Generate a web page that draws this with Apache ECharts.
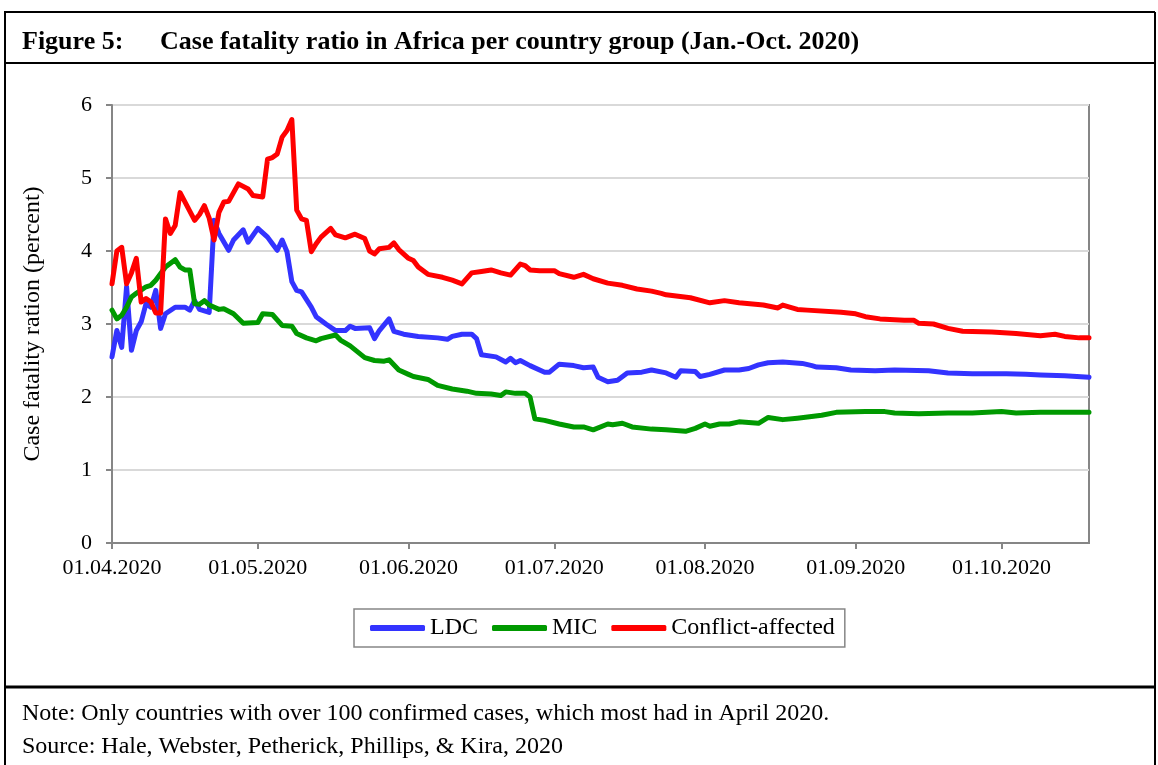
<!DOCTYPE html>
<html>
<head>
<meta charset="utf-8">
<script src="https://cdn.jsdelivr.net/npm/echarts@6/dist/echarts.min.js"></script>
<style>
  html, body { margin: 0; padding: 0; background: #fff; }
  #container { width: 1158px; height: 765px; }
</style>
</head>
<body>
<div id="container"></div>
<script>
// days counted from 01.04.2020
var tickDays = [0, 30, 61, 91, 122, 153, 183];
var tickLabels = ['01.04.2020', '01.05.2020', '01.06.2020', '01.07.2020', '01.08.2020', '01.09.2020', '01.10.2020'];
var lastDay = 201;

var ldcData = [
    [0, 2.55], [1, 2.91], [2, 2.68], [3, 3.51], [4, 2.64], [5, 2.91], [6, 3.03], [7, 3.28], [8, 3.23], [9, 3.46],
    [10, 2.94], [11, 3.14], [13, 3.23], [15, 3.23], [16, 3.19], [17, 3.32], [18, 3.2], [20, 3.16], [21, 4.42], [22, 4.24],
    [24, 4.01], [25, 4.15], [27, 4.29], [28, 4.12], [30, 4.31], [32, 4.19], [33, 4.1], [34, 4.01], [35, 4.15], [36, 3.99],
    [37, 3.58], [38, 3.46], [39, 3.44], [41, 3.23], [42, 3.1], [44, 3.0], [46, 2.91], [48, 2.91], [49, 2.97], [50, 2.94],
    [53, 2.95], [54, 2.8], [55, 2.91], [57, 3.07], [58, 2.9], [60, 2.86], [63, 2.83], [67, 2.81], [69, 2.79], [70, 2.83],
    [72, 2.86], [74, 2.86], [75, 2.8], [76, 2.58], [79, 2.55], [81, 2.48], [82, 2.53], [83, 2.47], [84, 2.5], [86, 2.43],
    [89, 2.34], [90, 2.34], [92, 2.45], [95, 2.43], [97, 2.4], [99, 2.41], [100, 2.27], [102, 2.21], [104, 2.23], [106, 2.33],
    [109, 2.34], [111, 2.37], [114, 2.33], [116, 2.27], [117, 2.36], [120, 2.35], [121, 2.28], [123, 2.31], [126, 2.37], [129, 2.37],
    [131, 2.39], [133, 2.44], [135, 2.47], [138, 2.48], [142, 2.46], [144, 2.43], [145, 2.41], [149, 2.4], [152, 2.37], [157, 2.36],
    [161, 2.37], [168, 2.36], [172, 2.33], [177, 2.32], [184, 2.32], [188, 2.31], [191, 2.3], [196, 2.29], [201, 2.27]
];

var micData = [
    [0, 3.19], [1, 3.07], [2, 3.12], [3, 3.23], [4, 3.37], [5, 3.42], [7, 3.51], [8, 3.53], [9, 3.6], [11, 3.78],
    [13, 3.88], [14, 3.78], [15, 3.74], [16, 3.74], [17, 3.28], [18, 3.27], [19, 3.32], [20, 3.26], [22, 3.2], [23, 3.21],
    [25, 3.14], [27, 3.01], [30, 3.02], [31, 3.14], [33, 3.13], [35, 2.98], [37, 2.97], [38, 2.87], [40, 2.81], [42, 2.77],
    [43, 2.8], [46, 2.85], [47, 2.78], [49, 2.7], [52, 2.54], [54, 2.5], [56, 2.49], [57, 2.51], [59, 2.37], [61, 2.31],
    [62, 2.28], [65, 2.24], [67, 2.16], [70, 2.11], [73, 2.08], [75, 2.05], [78, 2.04], [80, 2.02], [81, 2.07], [83, 2.05],
    [85, 2.05], [86, 2.0], [87, 1.7], [89, 1.68], [92, 1.63], [95, 1.59], [97, 1.59], [99, 1.55], [102, 1.63], [103, 1.62],
    [105, 1.64], [107, 1.59], [111, 1.56], [114, 1.55], [118, 1.53], [120, 1.57], [122, 1.63], [123, 1.6], [125, 1.63], [127, 1.63],
    [129, 1.66], [133, 1.64], [135, 1.72], [138, 1.69], [141, 1.71], [146, 1.75], [149, 1.79], [155, 1.8], [159, 1.8], [161, 1.78],
    [166, 1.77], [172, 1.78], [177, 1.78], [183, 1.8], [186, 1.78], [191, 1.79], [201, 1.79]
];

var conflictData = [
    [0, 3.55], [1, 4.0], [2, 4.05], [3, 3.55], [4, 3.7], [5, 3.9], [6, 3.3], [7, 3.35], [8, 3.3], [9, 3.15],
    [10, 3.15], [11, 4.44], [12, 4.24], [13, 4.35], [14, 4.8], [17, 4.42], [18, 4.5], [19, 4.62], [20, 4.45], [21, 4.15],
    [22, 4.53], [23, 4.67], [24, 4.68], [26, 4.92], [28, 4.85], [29, 4.76], [31, 4.74], [32, 5.26], [33, 5.28], [34, 5.33],
    [35, 5.56], [36, 5.65], [37, 5.8], [38, 4.56], [39, 4.44], [40, 4.42], [41, 3.99], [42, 4.1], [43, 4.19], [45, 4.31],
    [46, 4.22], [47, 4.2], [48, 4.18], [50, 4.23], [52, 4.17], [53, 4.0], [54, 3.96], [55, 4.03], [57, 4.05], [58, 4.11],
    [59, 4.02], [61, 3.9], [62, 3.87], [63, 3.78], [65, 3.68], [68, 3.64], [70, 3.6], [72, 3.55], [74, 3.7], [76, 3.72],
    [78, 3.74], [80, 3.7], [82, 3.67], [84, 3.82], [85, 3.8], [86, 3.74], [88, 3.73], [91, 3.73], [92, 3.69], [95, 3.64],
    [97, 3.68], [99, 3.62], [102, 3.56], [105, 3.53], [108, 3.48], [111, 3.45], [113, 3.42], [114, 3.4], [119, 3.36], [123, 3.29],
    [126, 3.32], [129, 3.29], [134, 3.26], [137, 3.22], [138, 3.26], [141, 3.2], [143, 3.19], [150, 3.16], [153, 3.14], [155, 3.1],
    [158, 3.07], [163, 3.05], [165, 3.05], [166, 3.01], [169, 3.0], [172, 2.94], [175, 2.9], [181, 2.89], [186, 2.87], [191, 2.84],
    [194, 2.86], [196, 2.83], [199, 2.81], [201, 2.81]
];

var FONT = '"Liberation Serif", "Times New Roman", serif';

function lineSeries(name, color, data) {
    return {
        name: name,
        type: 'line',
        symbol: 'none',
        data: data,
        lineStyle: { color: color, width: 5, join: 'round', cap: 'round' },
        itemStyle: { color: color },
        animation: false
    };
}

var chart = echarts.init(document.getElementById('container'));

chart.setOption({
    backgroundColor: '#fff',
    animation: false,
    textStyle: { fontFamily: FONT, color: '#000' },
    grid: {
        left: 112, right: 69, top: 105, bottom: 222,
        show: true,
        borderColor: '#868686',
        borderWidth: 2
    },
    xAxis: {
        type: 'value',
        min: 0,
        max: lastDay,
        axisLine: { lineStyle: { color: '#868686', width: 2 } },
        axisTick: { customValues: tickDays, length: 6, lineStyle: { color: '#868686', width: 2 } },
        axisLabel: {
            customValues: tickDays,
            margin: 14,
            fontFamily: FONT,
            fontSize: 22,
            color: '#000',
            formatter: function (v) {
                var i = tickDays.indexOf(v);
                return i >= 0 ? tickLabels[i] : '';
            }
        },
        splitLine: { show: false }
    },
    yAxis: {
        type: 'value',
        min: 0,
        max: 6,
        interval: 1,
        name: 'Case fatality ration (percent)',
        nameLocation: 'middle',
        nameGap: 67,
        nameTextStyle: { fontFamily: FONT, fontSize: 24, color: '#000' },
        axisLine: { show: true, lineStyle: { color: '#868686', width: 2 } },
        axisTick: { show: true, length: 6, lineStyle: { color: '#868686', width: 2 } },
        axisLabel: { margin: 20, fontFamily: FONT, fontSize: 22, color: '#000' },
        splitLine: { lineStyle: { color: '#d9d9d9', width: 2 } }
    },
    legend: {
        left: 354,
        top: 609,
        padding: [7, 10, 7, 16],
        itemGap: 14,
        itemWidth: 55,
        itemHeight: 6,
        icon: 'roundRect',
        borderColor: '#868686',
        borderWidth: 1.5,
        textStyle: { fontFamily: FONT, fontSize: 24, color: '#000' },
        data: ['LDC', 'MIC', 'Conflict-affected']
    },
    graphic: [
        { type: 'line', shape: { x1: 4, y1: 12, x2: 1155, y2: 12 }, style: { stroke: '#000', lineWidth: 2 } },
        { type: 'line', shape: { x1: 5, y1: 12, x2: 5, y2: 765 }, style: { stroke: '#000', lineWidth: 2 } },
        { type: 'line', shape: { x1: 1155, y1: 12, x2: 1155, y2: 765 }, style: { stroke: '#000', lineWidth: 2 } },
        { type: 'line', shape: { x1: 4, y1: 63, x2: 1155, y2: 63 }, style: { stroke: '#000', lineWidth: 2 } },
        { type: 'line', shape: { x1: 4, y1: 687, x2: 1155, y2: 687 }, style: { stroke: '#000', lineWidth: 3 } },
        { type: 'text', style: { x: 22, y: 42, text: 'Figure 5:', font: 'bold 26px ' + FONT, fill: '#000', verticalAlign: 'middle' } },
        { type: 'text', style: { x: 160, y: 42, text: 'Case fatality ratio in Africa per country group (Jan.-Oct. 2020)', font: 'bold 26px ' + FONT, fill: '#000', verticalAlign: 'middle' } },
        { type: 'text', style: { x: 22, y: 714, text: 'Note: Only countries with over 100 confirmed cases, which most had in April 2020.', font: '24px ' + FONT, fill: '#000', verticalAlign: 'middle' } },
        { type: 'text', style: { x: 22, y: 747, text: 'Source: Hale, Webster, Petherick, Phillips, & Kira, 2020', font: '24px ' + FONT, fill: '#000', verticalAlign: 'middle' } }
    ],
    series: [
        lineSeries('LDC', '#3333ff', ldcData),
        lineSeries('MIC', '#009900', micData),
        lineSeries('Conflict-affected', '#ff0000', conflictData)
    ]
});
</script>
</body>
</html>
